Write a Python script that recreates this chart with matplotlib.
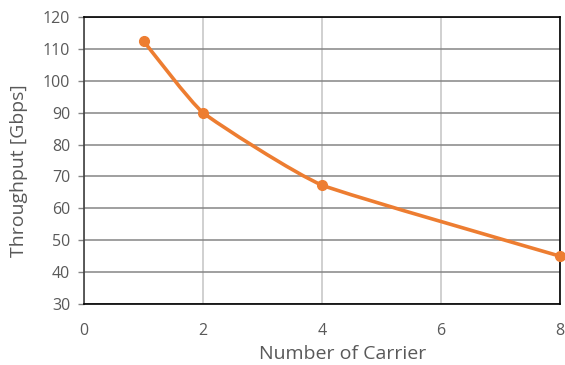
import matplotlib
matplotlib.use("Agg")
import matplotlib.pyplot as plt
from matplotlib.path import Path
from matplotlib.patches import PathPatch

carriers = [1, 2, 4, 8]
throughput = [112.5, 90.0, 67.3, 45.0]
x_ticks = [0, 2, 4, 6, 8]
y_ticks = [30, 40, 50, 60, 70, 80, 90, 100, 110, 120]

plt.rcParams['font.family'] = ['Open Sans', 'DejaVu Sans']

fig = plt.figure(figsize=(5.65, 3.65), dpi=100)
ax = fig.add_axes([84 / 565, 1 - 304 / 365, (560 - 84) / 565, (304 - 17) / 365])

ax.set_xlim(0, 8)
ax.set_ylim(30, 120)
ax.set_xticks(x_ticks)
ax.set_yticks(y_ticks)

ax.grid(axis='y', color='#858585', linewidth=1.1)
ax.grid(axis='x', color='#c4c4c4', linewidth=1.1)
ax.set_axisbelow(True)

for side in ['top', 'right', 'bottom']:
    ax.spines[side].set_color('#000000')
    ax.spines[side].set_linewidth(1.2)
ax.spines['left'].set_color('#404040')
ax.spines['left'].set_linewidth(1.2)

ax.tick_params(axis='y', length=4, width=1.0, color='#858585', labelsize=11.5,
               labelcolor='#595959', pad=6)
ax.tick_params(axis='x', length=0, labelsize=11.5, labelcolor='#595959', pad=14)

# lightly smoothed series line: cubic Bezier segments (Catmull-Rom style tangents)
pts = list(zip(carriers, throughput))
tension = 0.07
verts = [pts[0]]
codes = [Path.MOVETO]
for i in range(len(pts) - 1):
    p0 = pts[i - 1] if i > 0 else pts[i]
    p1 = pts[i]
    p2 = pts[i + 1]
    p3 = pts[i + 2] if i + 2 < len(pts) else pts[i + 1]
    c1 = (p1[0] + (p2[0] - p0[0]) * tension, p1[1] + (p2[1] - p0[1]) * tension)
    c2 = (p2[0] - (p3[0] - p1[0]) * tension, p2[1] - (p3[1] - p1[1]) * tension)
    verts += [c1, c2, p2]
    codes += [Path.CURVE4] * 3
line = PathPatch(Path(verts, codes), facecolor='none', edgecolor='#ed7d31',
                 linewidth=2.6, capstyle='round', joinstyle='round',
                 clip_on=False, zorder=3)
ax.add_patch(line)
ax.plot(carriers, throughput, linestyle='none', color='#ed7d31', marker='o',
        markersize=7, clip_on=False, zorder=4)

ax.set_xlabel('Number of Carrier', fontsize=14, color='#595959', va='center')
ax.xaxis.set_label_coords(0.544, -0.174)
ax.set_ylabel('Throughput [Gbps]', fontsize=14, color='#595959', va='center')
ax.yaxis.set_label_coords(-0.137, 0.463)

fig.savefig('out.png', dpi=100)
